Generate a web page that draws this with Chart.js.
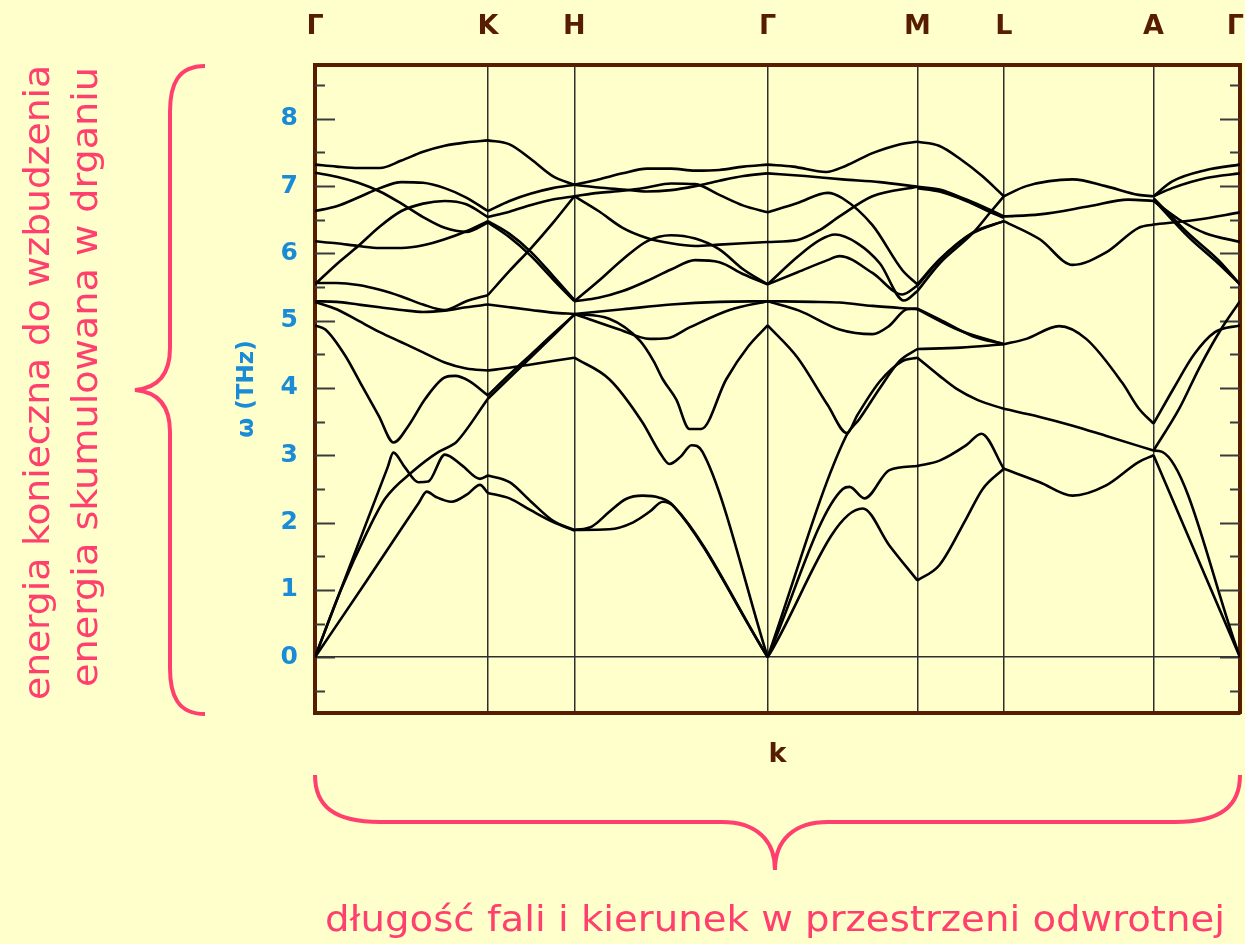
<!DOCTYPE html>
<html>
<head>
<meta charset="utf-8">
<script src="https://cdn.jsdelivr.net/npm/chart.js@4.4.0/dist/chart.umd.min.js"></script>
<style>
  html, body { margin: 0; padding: 0; background: #ffffcc; width: 1245px; height: 944px; overflow: hidden; }
  #wrap { position: absolute; left: 0; top: 0; width: 1245px; height: 944px; }
  svg.deco { position: absolute; left: 0; top: 0; pointer-events: none; }
  svg.deco text { fill: #ff3f6e; font-family: 'DejaVu Sans Condensed', 'DejaVu Sans', sans-serif; font-size: 36px; }
</style>
</head>
<body>
<div id="wrap"><canvas id="chart"></canvas></div>
<svg class="deco" width="1245" height="944">
  <!-- vertical brace beside the frequency axis -->
  <path d="M205,66 C178,66 170,84 170,112 L170,348 C170,374 158,388 135,390 C158,392 170,406 170,432 L170,668 C170,696 178,714 205,714"
        fill="none" stroke="#ff3f6e" stroke-width="4"/>
  <!-- horizontal brace under the wave-vector axis -->
  <path d="M315,775 C315,806 334,822 380,822 L722,822 C756,822 775,840 775,870 C775,840 794,822 828,822 L1175,822 C1221,822 1240,806 1240,775"
        fill="none" stroke="#ff3f6e" stroke-width="4"/>
  <text x="49" y="700" transform="rotate(-90 49 700)" textLength="635" lengthAdjust="spacingAndGlyphs">energia konieczna do wzbudzenia</text>
  <text x="97" y="687" transform="rotate(-90 97 687)" textLength="620" lengthAdjust="spacingAndGlyphs">energia skumulowana w drganiu</text>
  <text x="325" y="931" textLength="900" lengthAdjust="spacingAndGlyphs">długość fali i kierunek w przestrzeni odwrotnej</text>
</svg>
<script>
// high-symmetry points along the path and their positions (units of |ΓK|)
const symLabels = ['Γ', 'K', 'H', 'Γ', 'M', 'L', 'A', 'Γ'];
const symPos = [0, 1, 1.5, 2.618, 3.484, 3.984, 4.850, 5.350];
const freqTicks = [0, 1, 2, 3, 4, 5, 6, 7, 8];

// phonon branches, each point is [fraction along the segment, ω in THz]
const bandsGK = [
  [[0,7.32],[0.125,7.29],[0.25,7.27],[0.375,7.27],[0.5,7.38],[0.625,7.51],[0.75,7.60],[0.875,7.65],[1,7.68]],
  [[0,7.20],[0.125,7.14],[0.25,7.05],[0.375,6.92],[0.5,6.74],[0.625,6.54],[0.75,6.38],[0.875,6.32],[1,6.46]],
  [[0,6.63],[0.125,6.70],[0.25,6.83],[0.375,6.97],[0.5,7.06],[0.625,7.05],[0.75,6.97],[0.875,6.83],[1,6.63]],
  [[0,6.18],[0.125,6.15],[0.25,6.11],[0.375,6.08],[0.5,6.08],[0.625,6.12],[0.75,6.21],[0.875,6.33],[1,6.48]],
  [[0,5.54],[0.125,5.84],[0.25,6.11],[0.375,6.40],[0.5,6.63],[0.625,6.74],[0.75,6.78],[0.875,6.73],[1,6.54]],
  [[0,5.56],[0.125,5.56],[0.25,5.53],[0.375,5.46],[0.5,5.36],[0.625,5.24],[0.75,5.16],[0.875,5.29],[1,5.38]],
  [[0,5.29],[0.125,5.28],[0.25,5.24],[0.375,5.20],[0.5,5.16],[0.625,5.13],[0.75,5.15],[0.875,5.20],[1,5.24]],
  [[0,5.28],[0.125,5.17],[0.25,5.00],[0.375,4.83],[0.5,4.68],[0.625,4.53],[0.75,4.38],[0.875,4.29],[1,4.26]],
  [[0,4.93],[0.06,4.87],[0.175,4.48],[0.272,4.03],[0.368,3.59],[0.455,3.19],[0.541,3.44],[0.638,3.84],[0.753,4.16],[0.811,4.18],[0.888,4.11],[1,3.89]],
  [[0,0],[0.25,1.68],[0.42,2.82],[0.453,3.04],[0.52,2.82],[0.597,2.60],[0.655,2.61],[0.751,3.01],[0.85,2.85],[0.954,2.65],[1,2.70]],
  [[0,0],[0.15,1.0],[0.3,1.85],[0.407,2.36],[0.561,2.75],[0.715,3.05],[0.792,3.15],[0.819,3.20],[1,3.84]],
  [[0,0],[0.3,1.14],[0.6,2.29],[0.646,2.46],[0.7,2.38],[0.79,2.31],[0.88,2.42],[0.954,2.56],[1,2.44]]
];
const bandsKH = [
  [[0,7.68],[0.25,7.62],[0.5,7.40],[0.75,7.15],[1,7.02]],
  [[0,6.63],[0.25,6.78],[0.5,6.89],[0.75,6.97],[1,7.02]],
  [[0,6.54],[0.25,6.62],[0.5,6.72],[0.75,6.80],[1,6.85]],
  [[0,6.46],[0.25,6.24],[0.5,5.96],[0.75,5.62],[1,5.29]],
  [[0,6.48],[0.25,6.29],[0.5,6.02],[0.75,5.67],[1,5.31]],
  [[0,5.38],[0.25,5.74],[0.5,6.08],[0.75,6.45],[1,6.85]],
  [[0,5.24],[0.25,5.20],[0.5,5.16],[0.75,5.12],[1,5.10]],
  [[0,4.26],[0.25,4.30],[0.5,4.35],[0.75,4.40],[1,4.45]],
  [[0,3.89],[0.25,4.20],[0.5,4.50],[0.75,4.80],[1,5.09]],
  [[0,3.84],[0.25,4.15],[0.5,4.46],[0.75,4.77],[1,5.09]],
  [[0,2.70],[0.25,2.60],[0.5,2.31],[0.75,2.03],[1,1.89]],
  [[0,2.44],[0.25,2.36],[0.5,2.18],[0.75,2.01],[1,1.88]]
];
const bandsHG = [
  [[0,7.02],[0.125,7.10],[0.25,7.19],[0.375,7.26],[0.5,7.26],[0.625,7.23],[0.75,7.24],[0.875,7.29],[1,7.32]],
  [[0,7.02],[0.125,6.98],[0.25,6.95],[0.375,6.92],[0.5,6.94],[0.625,7.00],[0.75,7.08],[0.875,7.15],[1,7.19]],
  [[0,6.85],[0.125,6.90],[0.25,6.93],[0.375,6.98],[0.5,7.04],[0.625,7.03],[0.75,6.87],[0.875,6.71],[1,6.61]],
  [[0,6.85],[0.125,6.63],[0.25,6.38],[0.375,6.23],[0.5,6.15],[0.625,6.11],[0.75,6.13],[0.875,6.15],[1,6.17]],
  [[0,5.29],[0.125,5.59],[0.25,5.91],[0.375,6.18],[0.5,6.27],[0.625,6.22],[0.75,6.06],[0.875,5.76],[1,5.54]],
  [[0,5.29],[0.125,5.34],[0.25,5.44],[0.375,5.59],[0.5,5.76],[0.625,5.90],[0.75,5.87],[0.875,5.69],[1,5.54]],
  [[0,5.10],[0.233,4.87],[0.389,4.73],[0.48,4.74],[0.596,4.90],[0.803,5.16],[1,5.29]],
  [[0,5.10],[0.25,5.17],[0.5,5.24],[0.75,5.28],[1,5.29]],
  [[0,5.10],[0.18,5.03],[0.34,4.70],[0.41,4.40],[0.4575,4.13],[0.527,3.83],[0.596,3.39],[0.656,3.39],[0.786,4.13],[0.9,4.62],[1,4.93]],
  [[0,4.45],[0.181,4.13],[0.352,3.49],[0.44,3.05],[0.492,2.87],[0.55,2.98],[0.606,3.15],[0.663,3.05],[1,0]],
  [[0,1.89],[0.09,1.94],[0.181,2.16],[0.267,2.35],[0.353,2.40],[0.44,2.37],[0.509,2.26],[1,0]],
  [[0,1.89],[0.181,1.90],[0.302,2.00],[0.389,2.16],[0.458,2.31],[0.518,2.23],[1,0]]
];
const bandsGM = [
  [[0,7.32],[0.17,7.29],[0.39,7.21],[0.52,7.30],[0.70,7.49],[0.88,7.62],[1,7.66]],
  [[0,7.19],[0.25,7.15],[0.5,7.10],[0.75,7.06],[1,6.99]],
  [[0,6.61],[0.2,6.75],[0.4,6.90],[0.5,6.82],[0.7,6.42],[0.9,5.75],[1,5.54]],
  [[0,6.17],[0.2,6.20],[0.35,6.35],[0.48,6.55],[0.7,6.85],[1,6.99]],
  [[0,5.54],[0.2,5.95],[0.35,6.20],[0.45,6.28],[0.6,6.15],[0.75,5.85],[0.91,5.30],[1,5.44]],
  [[0,5.54],[0.2,5.72],[0.4,5.90],[0.48,5.96],[0.7,5.71],[0.9,5.39],[1,5.52]],
  [[0,5.29],[0.3,5.28],[0.48,5.27],[0.7,5.22],[1,5.17]],
  [[0,5.29],[0.21,5.15],[0.48,4.87],[0.7,4.80],[0.81,4.92],[0.93,5.17],[1,5.18]],
  [[0,4.93],[0.2,4.45],[0.4,3.75],[0.53,3.33],[0.6,3.60],[0.75,4.10],[0.9,4.40],[1,4.45]],
  [[0,0],[0.525,3.29],[0.613,3.54],[0.75,4.00],[0.88,4.40],[1,4.58]],
  [[0,0],[0.502,2.50],[0.547,2.53],[0.647,2.36],[0.813,2.78],[1,2.84]],
  [[0,0],[0.635,2.21],[0.813,1.66],[1,1.14]]
];
const bandsML = [
  [[0,7.66],[0.25,7.60],[0.5,7.40],[0.75,7.15],[1,6.85]],
  [[0,6.99],[0.256,6.95],[0.566,6.80],[0.837,6.65],[1,6.55]],
  [[0,6.97],[0.256,6.92],[0.566,6.78],[0.837,6.62],[1,6.53]],
  [[0,5.54],[0.256,5.91],[0.64,6.31],[1,6.48]],
  [[0,5.44],[0.256,5.85],[0.64,6.30],[0.837,6.60],[1,6.85]],
  [[0,5.52],[0.256,5.90],[0.64,6.30],[1,6.48]],
  [[0,5.18],[0.256,5.02],[0.64,4.77],[1,4.65]],
  [[0,5.17],[0.5,4.85],[1,4.65]],
  [[0,4.58],[0.5,4.60],[1,4.65]],
  [[0,4.45],[0.256,4.18],[0.45,3.99],[0.7,3.82],[1,3.69]],
  [[0,2.84],[0.256,2.92],[0.566,3.15],[0.74,3.32],[1,2.80]],
  [[0,1.14],[0.256,1.37],[0.566,2.06],[0.756,2.50],[1,2.80]]
];
const bandsLA = [
  [[0,6.85],[0.15,7.00],[0.46,7.10],[0.68,7.00],[0.9,6.87],[1,6.85]],
  [[0,6.55],[0.24,6.58],[0.57,6.70],[0.83,6.80],[1,6.78]],
  [[0,6.48],[0.24,6.21],[0.46,5.83],[0.68,6.01],[0.9,6.38],[1,6.43]],
  [[0,4.65],[0.15,4.73],[0.37,4.92],[0.55,4.73],[0.79,4.08],[0.9,3.70],[1,3.47]],
  [[0,3.69],[0.24,3.57],[0.46,3.44],[0.68,3.29],[1,3.07]],
  [[0,2.80],[0.24,2.60],[0.46,2.40],[0.68,2.55],[0.9,2.90],[1,3.00]]
];
const bandsAG = [
  [[0,6.85],[0.216,7.07],[0.61,7.24],[1,7.32]],
  [[0,6.85],[0.216,6.97],[0.61,7.12],[1,7.19]],
  [[0,6.43],[0.5,6.50],[1,6.61]],
  [[0,6.78],[0.3,6.50],[0.6,6.30],[1,6.17]],
  [[0,6.82],[0.4,6.30],[0.75,5.90],[1,5.54]],
  [[0,6.80],[0.4,6.25],[0.75,5.85],[1,5.54]],
  [[0,3.47],[0.235,4.00],[0.47,4.50],[0.71,4.83],[1,4.93]],
  [[0,3.07],[0.3,3.70],[0.53,4.30],[0.77,4.85],[1,5.29]],
  [[0,3.07],[0.1,3.05],[1,0]],
  [[0,3.00],[1,0]]
];

const segmentBands = [bandsGK, bandsKH, bandsHG, bandsGM, bandsML, bandsLA, bandsAG];

const BROWN = '#561d02';
const BLUE = '#1a8bd6';
const GRIDLINE = '#2e2e2e';

const datasets = [];
segmentBands.forEach((bands, s) => {
  const k0 = symPos[s], k1 = symPos[s + 1];
  bands.forEach(branch => {
    datasets.push({
      data: branch.map(([t, w]) => ({ x: k0 + t * (k1 - k0), y: w })),
      borderColor: '#000',
      borderWidth: 2.6,
      pointRadius: 0,
      fill: false,
      cubicInterpolationMode: 'monotone'
    });
  });
});

// short inward tick marks on both frequency axes (long at whole THz, short at halves)
const innerTicks = {
  id: 'innerTicks',
  beforeDatasetsDraw(chart) {
    const { ctx, chartArea: a, scales: { y } } = chart;
    ctx.save();
    ctx.strokeStyle = '#3a3a3a';
    ctx.lineWidth = 2;
    for (let v = -0.5; v <= 8.5; v += 0.5) {
      const py = Math.round(y.getPixelForValue(v)) + 0.5;
      const len = Number.isInteger(v) ? 20 : 10;
      ctx.beginPath();
      ctx.moveTo(a.left, py); ctx.lineTo(a.left + len, py);
      ctx.moveTo(a.right, py); ctx.lineTo(a.right - len, py);
      ctx.stroke();
    }
    ctx.restore();
  }
};

const symTicks = s => { s.ticks = symPos.map(v => ({ value: v })); };

new Chart(document.getElementById('chart'), {
  type: 'line',
  data: { datasets },
  plugins: [innerTicks],
  options: {
    responsive: true,
    maintainAspectRatio: false,
    animation: false,
    events: [],
    layout: { padding: { left: 0, right: 0, top: 0, bottom: 173 } },
    plugins: { legend: { display: false }, tooltip: { enabled: false } },
    scales: {
      x: {
        type: 'linear', position: 'bottom', min: 0, max: symPos[symPos.length - 1],
        afterBuildTicks: symTicks,
        ticks: { display: false },
        grid: { display: true, color: GRIDLINE, lineWidth: 1.5, drawTicks: false },
        border: { display: true, color: BROWN, width: 4 },
        title: { display: true, text: 'k', color: BROWN, padding: 0,
                 font: { family: 'DejaVu Sans', size: 27, weight: 'bold' } },
        afterFit: s => { s.height = 58; s.paddingLeft = 0; s.paddingRight = 0; }
      },
      xTop: {
        type: 'linear', position: 'top', min: 0, max: symPos[symPos.length - 1],
        afterBuildTicks: symTicks,
        ticks: {
          autoSkip: false, maxRotation: 0, padding: 22, color: BROWN,
          font: { family: 'DejaVu Sans', size: 27, weight: 'bold' },
          // the last label gets a trailing space so it stays inside the page edge
          callback: (v, i) => (i === symLabels.length - 1 ? symLabels[i] + ' ' : symLabels[i])
        },
        grid: { display: false, drawTicks: false },
        border: { display: true, color: BROWN, width: 4 },
        afterFit: s => { s.height = 65; s.paddingLeft = 0; s.paddingRight = 0; }
      },
      y: {
        type: 'linear', position: 'left', min: -0.83, max: 8.8,
        afterBuildTicks: s => { s.ticks = freqTicks.map(v => ({ value: v })); },
        ticks: { color: BLUE, padding: 17, font: { family: 'DejaVu Sans', size: 25, weight: 'bold' } },
        grid: { drawTicks: false, lineWidth: 1.5,
                color: c => (c.tick && c.tick.value === 0 ? GRIDLINE : 'rgba(0,0,0,0)') },
        border: { display: true, color: BROWN, width: 4 },
        title: { display: true, text: 'ω (THz)', color: BLUE, padding: { top: 233, bottom: 0 },
                 font: { family: 'DejaVu Sans', size: 23, weight: 'bold' } },
        afterFit: s => { s.width = 315; s.paddingTop = 0; s.paddingBottom = 0; }
      },
      yRight: {
        type: 'linear', position: 'right', min: -0.83, max: 8.8,
        ticks: { display: false },
        grid: { display: false, drawTicks: false },
        border: { display: true, color: BROWN, width: 4 },
        afterFit: s => { s.width = 5; s.paddingTop = 0; s.paddingBottom = 0; }
      }
    }
  }
});
</script>
</body>
</html>
